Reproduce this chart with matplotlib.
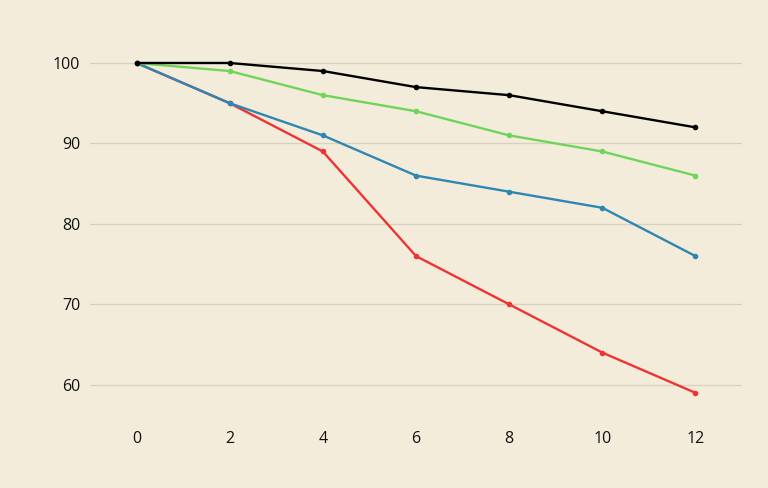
import matplotlib.pyplot as plt

plt.rcParams['font.family'] = ['Open Sans', 'DejaVu Sans']

months = [0, 2, 4, 6, 8, 10, 12]
red_vals = [100, 95, 89, 76, 70, 64, 59]
blue_vals = [100, 95, 91, 86, 84, 82, 76]
green_vals = [100, 99, 96, 94, 91, 89, 86]
black_vals = [100, 100, 99, 97, 96, 94, 92]

bg = "#f3ecda"

fig = plt.figure(figsize=(7.68, 4.88), dpi=100, facecolor=bg)
ax = fig.add_axes([90 / 768, 1 - 425 / 488, 652 / 768, 395 / 488])
ax.set_facecolor(bg)

ax.plot(months, red_vals, color="#ee3333", lw=1.7, marker="o", ms=3)
ax.plot(months, blue_vals, color="#2f86b3", lw=1.7, marker="o", ms=3)
ax.plot(months, green_vals, color="#70d45a", lw=1.7, marker="o", ms=3)
ax.plot(months, black_vals, color="#000000", lw=1.7, marker="o", ms=3)

ax.set_xlim(-1, 13)
ax.set_ylim(55, 104.1)
ax.set_xticks(months)
ax.set_yticks([60, 70, 80, 90, 100])
ax.grid(axis="y", color="#d9d1bf", lw=0.9)
ax.set_axisbelow(True)
for s in ax.spines.values():
    s.set_visible(False)
ax.tick_params(length=0, labelsize=11.5, colors="#111111")
ax.tick_params(axis="x", pad=4)
ax.tick_params(axis="y", pad=7)

fig.savefig("out.png", facecolor=bg)
